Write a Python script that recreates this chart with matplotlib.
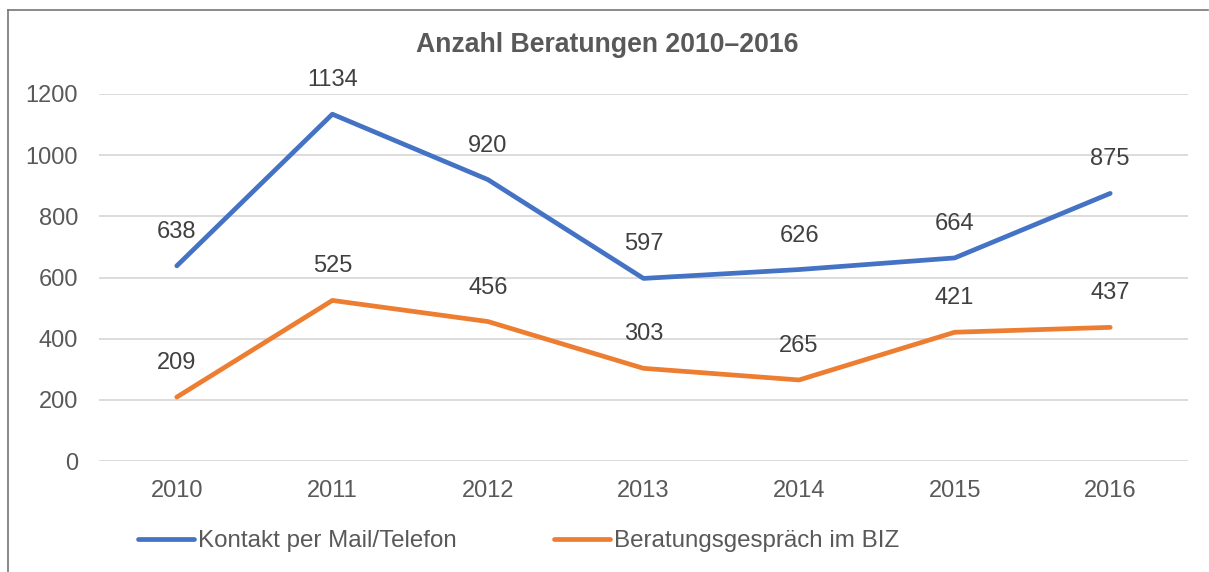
import matplotlib
matplotlib.use("Agg")
import matplotlib.pyplot as plt
from matplotlib.lines import Line2D

years = ["2010", "2011", "2012", "2013", "2014", "2015", "2016"]
kontakt = [638, 1134, 920, 597, 626, 664, 875]
beratung = [209, 525, 456, 303, 265, 421, 437]
series_names = ["Kontakt per Mail/Telefon", "Beratungsgespräch im BIZ"]
title = "Anzahl Beratungen 2010–2016"

plt.rcParams['font.family'] = ['Liberation Sans', 'DejaVu Sans']
W, H = 1209, 572
fig = plt.figure(figsize=(W / 100, H / 100), dpi=100)
ax = fig.add_axes([99 / W, 1 - 461 / H, 1089 / W, 367 / H])

grey = "#595959"
blue = "#4472C4"
orange = "#ED7D31"
x = list(range(len(years)))

l1, = ax.plot(x, kontakt, color=blue, lw=3.4, solid_capstyle='round', solid_joinstyle='round', zorder=3)
l2, = ax.plot(x, beratung, color=orange, lw=3.4, solid_capstyle='round', solid_joinstyle='round', zorder=3)

for xi, v in zip(x, kontakt):
    ax.annotate(str(v), (xi, v), xytext=(0, 24.5), textcoords='offset points',
                ha='center', va='center', fontsize=17, color="#404040")
for xi, v in zip(x, beratung):
    ax.annotate(str(v), (xi, v), xytext=(0, 24.5), textcoords='offset points',
                ha='center', va='center', fontsize=17, color="#404040")

ax.set_xlim(-0.5, len(years) - 0.5)
ax.set_ylim(0, 1200)
ax.set_yticks(range(0, 1201, 200))
ax.set_xticks(x)
ax.set_xticklabels(years)
ax.tick_params(axis='both', length=0, labelsize=17, labelcolor=grey)
ax.tick_params(axis='y', pad=15)
ax.tick_params(axis='x', pad=14)
ax.grid(axis='y', color="#D9D9D9", lw=1.3)
ax.set_axisbelow(True)
for s in ax.spines.values():
    s.set_visible(False)

fig.text(607 / W, 1 - 45 / H, title, ha='center', va='center', fontsize=19.2,
         fontweight='bold', color=grey)

leg = fig.legend([l1, l2], series_names, loc='center left', bbox_to_anchor=(138 / W, 1 - 541 / H),
                 ncol=2, frameon=False, fontsize=17.4, labelcolor=grey, handlelength=2.3,
                 handletextpad=0.17, columnspacing=4.05, borderaxespad=0, borderpad=0)

fig.add_artist(Line2D([8 / W, 8 / W], [0, 1 - 10 / H], transform=fig.transFigure, color="#767676", lw=1.2))
fig.add_artist(Line2D([8 / W, 1208 / W], [1 - 10 / H, 1 - 10 / H], transform=fig.transFigure, color="#767676", lw=1.2))

fig.savefig("out.png", dpi=100, facecolor="white")
